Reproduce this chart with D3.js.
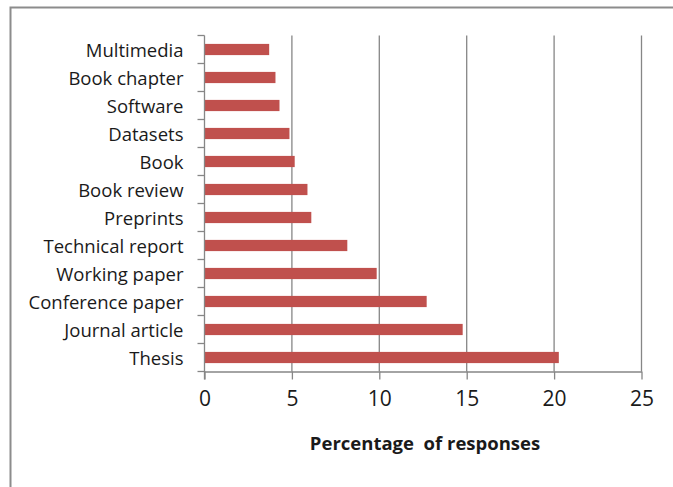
<!DOCTYPE html>
<html>
<head>
<meta charset="utf-8">
<script src="https://cdn.jsdelivr.net/npm/d3@7"></script>
<style>
  html, body { margin: 0; padding: 0; background: #fff; }
  svg { display: block; }
</style>
</head>
<body>
<svg id="chart" width="673" height="487"></svg>
<script>
// Publication types, top to bottom
const categories = [
  "Multimedia", "Book chapter", "Software", "Datasets", "Book", "Book review",
  "Preprints", "Technical report", "Working paper", "Conference paper",
  "Journal article", "Thesis"
];
// Percentage of responses for each type
const values = [3.7, 4.06, 4.29, 4.86, 5.16, 5.89, 6.11, 8.17, 9.85, 12.71, 14.77, 20.27];
const xTicks = [0, 5, 10, 15, 20, 25];
const xTitle = "Percentage  of responses";

const svg = d3.select("#chart");
const font = "'Open Sans', Lato, sans-serif";
const axisGrey = "#868686";
const textColor = "#1a1a1a";

// Outer chart frame
svg.append("path")
  .attr("d", "M10.5,487 V7.5 H673")
  .attr("fill", "none")
  .attr("stroke", "#8c8c8c")
  .attr("stroke-width", 2);

const plotL = 204.5, plotR = 641.5, plotT = 35.5, plotB = 371.5;

const x = d3.scaleLinear().domain([0, 25]).range([plotL, plotR]);
const y = d3.scaleBand().domain(categories).range([plotT, plotB]).paddingInner(0.6).paddingOuter(0.3);

// Vertical gridlines
svg.append("g")
  .selectAll("line")
  .data(xTicks.slice(1))
  .join("line")
  .attr("x1", d => x(d)).attr("x2", d => x(d))
  .attr("y1", plotT).attr("y2", plotB)
  .attr("stroke", axisGrey).attr("stroke-width", 1.3);

// Bars
svg.append("g")
  .selectAll("rect")
  .data(categories)
  .join("rect")
  .attr("x", x(0))
  .attr("y", d => y(d))
  .attr("width", (d, i) => x(values[i]) - x(0))
  .attr("height", y.bandwidth())
  .attr("fill", "#c0504d");

// X axis
const xAxis = svg.append("g")
  .attr("transform", `translate(0,${plotB})`)
  .call(d3.axisBottom(x).tickValues(xTicks).tickSize(8).tickPadding(12).tickSizeOuter(0));
xAxis.select(".domain").attr("stroke", axisGrey).attr("stroke-width", 1.3);
xAxis.selectAll(".tick line").attr("stroke", axisGrey).attr("stroke-width", 1.3);
xAxis.selectAll(".tick text")
  .attr("fill", textColor)
  .style("font-family", font)
  .style("font-size", "21px");

// Y axis: ticks fall on band boundaries
const bandEdges = d3.range(categories.length + 1).map(i => plotT + i * (plotB - plotT) / categories.length);
const yAxisG = svg.append("g");
yAxisG.append("line")
  .attr("x1", plotL).attr("x2", plotL)
  .attr("y1", plotT).attr("y2", plotB + 8)
  .attr("stroke", axisGrey).attr("stroke-width", 1.3);
yAxisG.selectAll("line.tick")
  .data(bandEdges)
  .join("line")
  .attr("class", "tick")
  .attr("x1", plotL - 7).attr("x2", plotL)
  .attr("y1", d => d).attr("y2", d => d)
  .attr("stroke", axisGrey).attr("stroke-width", 1.3);

// Category labels
yAxisG.selectAll("text")
  .data(categories)
  .join("text")
  .attr("x", plotL - 21)
  .attr("y", d => y(d) + y.bandwidth() / 2)
  .attr("dy", "0.38em")
  .attr("text-anchor", "end")
  .attr("fill", textColor)
  .style("font-family", font)
  .style("font-size", "18.5px")
  .text(d => d);

// Axis title
svg.append("text")
  .attr("x", 425)
  .attr("y", 450)
  .attr("text-anchor", "middle")
  .attr("fill", textColor)
  .style("font-family", font)
  .style("font-size", "18.5px")
  .style("font-weight", "bold")
  .style("white-space", "pre")
  .text(xTitle);
</script>
</body>
</html>
